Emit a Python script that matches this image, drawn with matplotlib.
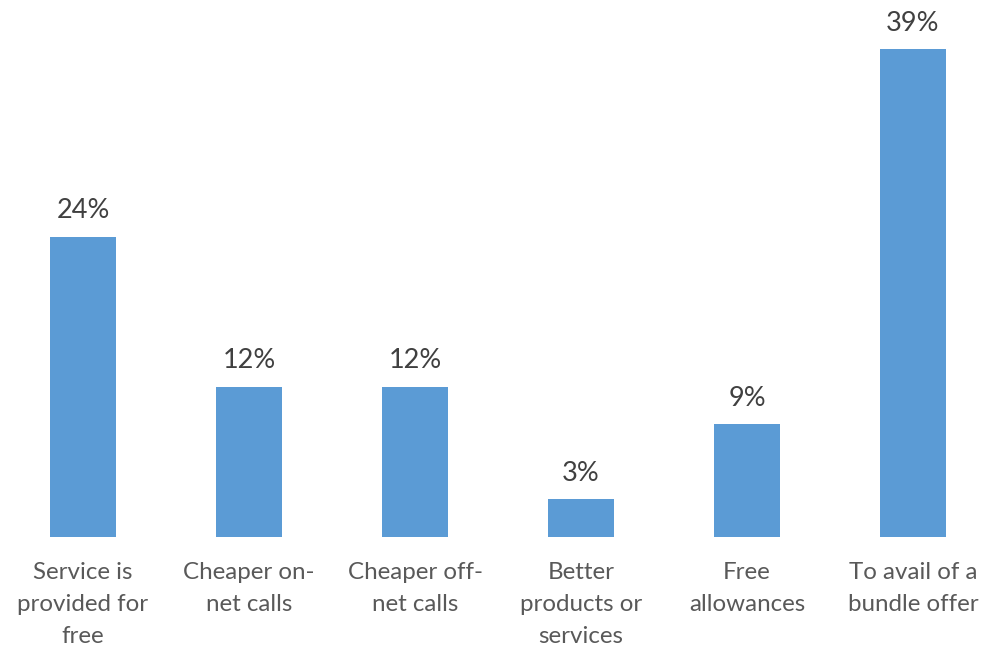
import numpy as np
import matplotlib.pyplot as plt

plt.rcParams['font.family'] = ['Lato', 'DejaVu Sans']

# categories and their shares (%)
categories = ["Service is\nprovided for\nfree", "Cheaper on-\nnet calls", "Cheaper off-\nnet calls",
              "Better\nproducts or\nservices", "Free\nallowances", "To avail of a\nbundle offer"]
values = [24, 12, 12, 3, 9, 39]

fig = plt.figure(figsize=(9.9, 6.49), dpi=100)
ax = fig.add_axes([0, 0.1726, 1, 0.8274])

x = np.arange(len(categories))
bars = ax.bar(x, values, width=0.4, color="#5B9BD5")

for b, v in zip(bars, values):
    ax.annotate(f"{v}%", (b.get_x() + b.get_width() / 2, v), xytext=(0, 10),
                textcoords="offset points", ha="center", va="bottom",
                fontsize=19.5, color="#404040")

ax.set_xlim(-0.5, -0.5 + 990 / 166)
ax.set_ylim(0, 42.96)
ax.set_xticks(x)
ax.set_xticklabels(categories, fontsize=17.4, color="#595959", linespacing=1.64, va="top")
ax.tick_params(axis="x", length=0, pad=18)
ax.set_yticks([])
for s in ax.spines.values():
    s.set_visible(False)

fig.savefig("out.png", dpi=100)
